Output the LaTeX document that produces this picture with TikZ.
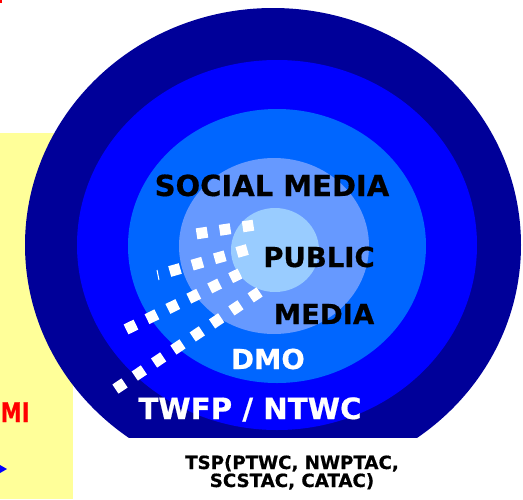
\documentclass[tikz,border=0pt]{standalone}
\usepackage{fontspec}
\setmainfont{DejaVu Sans}[BoldFeatures={FakeBold=0.6}]
\usepackage{tikz}
\usetikzlibrary{calc,positioning}

\definecolor{ringnavy}{RGB}{0,0,153}
\definecolor{ringblue}{RGB}{0,0,255}
\definecolor{ringmid}{RGB}{0,102,255}
\definecolor{ringlight}{RGB}{102,153,255}
\definecolor{ringpale}{RGB}{153,204,255}
\definecolor{paneyellow}{RGB}{255,255,153}

\tikzset{
	lbl/.style={inner sep=0pt, anchor=base, font=\bfseries},
	dotrow/.style={white, line width=11pt, dash pattern=on 11pt off 12.3pt},
}

\begin{document}
\begin{tikzpicture}[x=1pt,y=-1pt]
		\useasboundingbox (0,0) rectangle (523,499);
		% left panel
		\fill[paneyellow] (0,133) rectangle (73,499);
		\fill[red] (0,0) rectangle (2,3);
		\fill[ringblue] (0,465) -- (7,469) -- (0,473) -- cycle;
		
		% rings
		\begin{scope}
			\clip (0,0) rectangle (523,437);
			\fill[ringnavy] (273,245) ellipse [x radius=248, y radius=237];
			\fill[ringblue] (277,245) ellipse [x radius=200, y radius=185];
			\fill[ringmid] (277,246) ellipse [x radius=149, y radius=137];
			\fill[ringlight] (274,246) ellipse [x radius=95, y radius=88];
			\fill[ringpale] (275,250) ellipse [x radius=44, y radius=42];
		\end{scope}
		
		% dotted rays
		\coordinate (r1-a) at (202,233);
		\coordinate (r1-b) at (248,226);
		\coordinate (r2-a) at (175,270);
		\coordinate (r2-b) at (242,251);
		\coordinate (r3-a) at (131,327);
		\coordinate (r3-b) at (235,276);
		\coordinate (r4-a) at (120,386);
		\coordinate (r4-b) at (255,295);
		\foreach \r in {r1,r2,r3,r4}
			\draw[dotrow] ($(\r-a)!-5.5pt!(\r-b)$) -- ($(\r-b)!-5.5pt!(\r-a)$);
		\draw[white, line width=1pt] (157,270) -- (159,280);
		
		% labels
		\node[lbl, font=\bfseries\fontsize{29}{29}\selectfont] (social) at (272,196) {SOCIAL MEDIA};
		\node[lbl, font=\bfseries\fontsize{27.5}{27.5}\selectfont] (public) at (319,267) {PUBLIC};
		\node[lbl, font=\bfseries\fontsize{27.5}{27.5}\selectfont] (media) at (324,324) {MEDIA};
		\node[lbl, white, font=\bfseries\fontsize{27.5}{27.5}\selectfont] (dmo) at (268,369) {DMO};
		\node[lbl, white, font=\bfseries\fontsize{29.3}{29.3}\selectfont] (twfp) at (250,419) {TWFP / NTWC};
		\node[lbl, font=\bfseries\fontsize{18.2}{18.2}\selectfont] (tsp) at (292,469) {TSP(PTWC, NWPTAC,};
		\node[lbl, font=\bfseries\fontsize{18.2}{18.2}\selectfont, below=18pt of tsp.base, anchor=base] (tspb) {SCSTAC, CATAC)};
		\node[lbl, red, anchor=base west, font=\bfseries\fontsize{27}{27}\selectfont] (mi) at (0.5,422) {\scalebox{0.78}[1]{MI}};
	\end{tikzpicture}
\end{document}
